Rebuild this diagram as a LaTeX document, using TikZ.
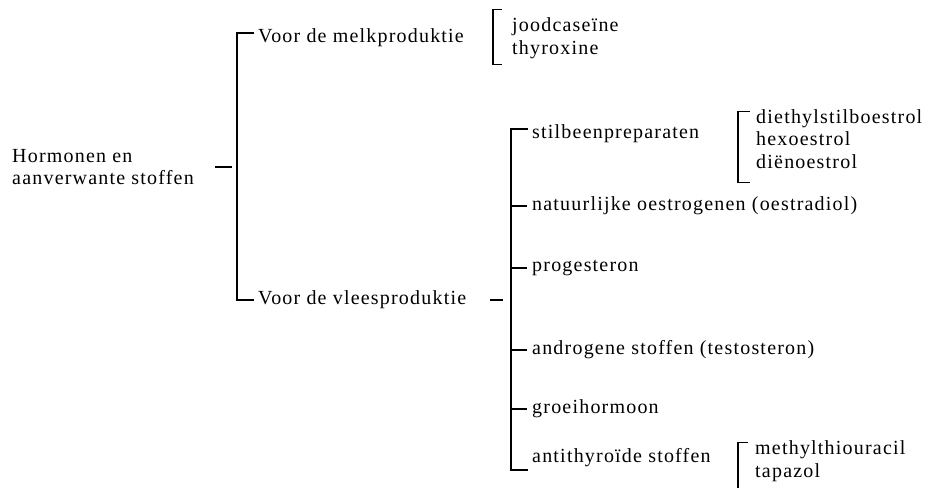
\documentclass[tikz,border=0pt]{standalone}
\usepackage{fontspec}
\setmainfont{Liberation Serif}[LetterSpace=6]
\usetikzlibrary{positioning}

\begin{document}
\begin{tikzpicture}[
  x=1pt, y=-1pt,
  item/.style={anchor=west, inner sep=0pt, align=left,
               font=\fontsize{20}{22.5}\selectfont},
  bar/.style={line width=1.8pt, line join=miter},
  tick/.style={line width=1.8pt},
  brace/.style={line width=1.2pt, line join=miter}
]
\useasboundingbox (0,0) rectangle (925,488);

% Root
\node[item] (root) at (12,167) {Hormonen en\\aanverwante stoffen};
\coordinate (b1) at (237,167);
\draw[tick] ([xshift=-22pt]b1) -- ([xshift=-5pt]b1);

% Main branches
\node[item] (melk) at (258,38) {Voor de melkproduktie};
\node[item] (vlees) at (258,300) {Voor de vleesproduktie};
\draw[bar] ([xshift=-4pt,yshift=5pt]melk.west) -| (b1) |- ([xshift=-4pt]vlees.west);

% Melk
\node[item] (melkmid) at (512,38) {joodcaseïne\\thyroxine};
\draw[brace] ([xshift=-10pt,yshift=8pt]melkmid.north west) -- ++(-9,0)
  |- ([xshift=-10pt,yshift=-6pt]melkmid.south west);

% Vlees
\node[item] (stil) at (532,134) {stilbeenpreparaten};
\node[item] (nat) at (532,206) {natuurlijke oestrogenen (oestradiol)};
\node[item] (prog) at (532,268) {progesteron};
\node[item] (andr) at (532,350) {androgene stoffen (testosteron)};
\node[item] (groei) at (532,409) {groeihormoon};
\node[item] (anti) at (532,458) {antithyroïde stoffen};
\coordinate (b2) at (511,300);
\draw[tick] ([xshift=-21pt]b2) -- ([xshift=-8pt]b2);
\draw[bar] ([xshift=-4pt,yshift=5pt]stil.west) -| (b2) |- ([xshift=-4pt,yshift=-12pt]anti.west);
\foreach \n in {nat,prog,andr,groei}
  \draw[tick] (b2 |- \n.west) -- ([xshift=-5pt]\n.west);

% Stilbeen
\node[item] (stilmid) at (756,139) {diethylstilboestrol\\hexoestrol\\diënoestrol};
\draw[brace] ([xshift=-6pt,yshift=-2pt]stilmid.north west) -- ++(-12,0)
  |- ([xshift=-6pt,yshift=-14pt]stilmid.south west);

% Antithyroide
\node[item] (antimid) at (755,461) {methylthiouracil\\tapazol};
\coordinate (antiend) at (738,488);
\draw[brace] ([xshift=-7pt,yshift=-2pt]antimid.north west) -- ++(-10,0) -- (antiend);
\end{tikzpicture}
\end{document}
